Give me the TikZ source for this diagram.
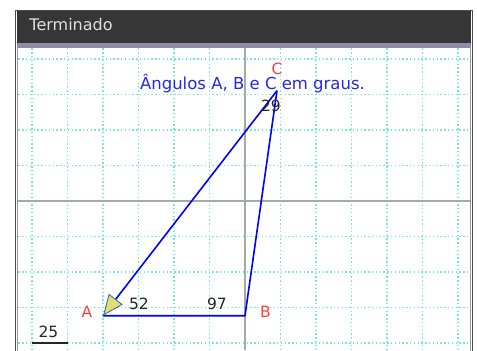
\documentclass[tikz,border=0pt]{standalone}
\usepackage{fontspec}
\setmainfont{DejaVu Sans}
\usetikzlibrary{arrows.meta}
\definecolor{gridcol}{RGB}{110,235,215}
\definecolor{axiscol}{RGB}{160,172,166}
\definecolor{headcol}{RGB}{54,54,54}
\definecolor{bandcol}{RGB}{140,140,165}
\definecolor{ptred}{RGB}{255,60,60}
\definecolor{txtblue}{RGB}{40,40,230}
\definecolor{tipyellow}{RGB}{226,222,112}
\definecolor{tipedge}{RGB}{70,110,150}
\begin{document}
\begin{tikzpicture}[x=35.5pt, y=35.5pt,
        gridline/.style={gridcol, line width=1.4pt, dash pattern=on 1.4pt off 2.4pt},
        ptlabel/.style={ptred, font=\fontsize{15.5}{18}\selectfont},
        numlabel/.style={black!85, font=\fontsize{15.5}{18}\selectfont}]
        \useasboundingbox (-6.901,-4.197) rectangle (6.535,5.662);
        % frame and title bar
        \fill[white] (-6.901,-4.197) rectangle (6.535,5.662);
        \draw[black!70, line width=1pt] (-6.465,-4.5) -- (-6.465,5.372) -- (6.408,5.372) -- (6.408,-4.5);
        \draw[black!40, line width=0.8pt] (-6.408,-4.5) -- (-6.408,4.324) -- (6.352,4.324) -- (6.352,-4.5);
        \fill[headcol] (-6.42,5.352) rectangle (6.36,4.451);
        \fill[bandcol] (-6.42,4.451) rectangle (6.36,4.324);
        \node[anchor=base west, text=black!12, font=\fontsize{16}{18}\selectfont, inner sep=0pt] (title) at (-6.076,4.789) {Terminado};
        % grid
        \foreach \x in {-6,...,6}
            \draw[gridline] (\x,4.3) -- (\x,-4.2);
        \foreach \y in {-4,...,4}
            \draw[gridline] (-6.38,\y) -- (6.33,\y);
        \draw[axiscol, line width=1.2pt] (-6.38,0) -- (6.33,0);
        \draw[axiscol, line width=1.2pt] (0,4.3) -- (0,-4.2);
        % triangle
        \coordinate (A) at (-4,-3.231);
        \coordinate (B) at (0,-3.231);
        \coordinate (C) at (0.901,3.107);
        \draw[blue, line width=1.6pt] (A) -- (B) -- (C);
        \draw[blue, line width=1.6pt, -{Triangle[length=21pt, width=17.5pt, color=tipedge, fill=tipyellow, line width=0.9pt]}] (C) -- (A);
        \node[anchor=base, text=txtblue, font=\fontsize{16.5}{19}\selectfont, inner sep=0pt] (info) at (0.211,3.146) {Ângulos A, B e C em graus.};
        \node[ptlabel, inner sep=0pt] (labA) at (-4.451,-3.113) {A};
        \node[ptlabel, inner sep=0pt] (labB) at (0.577,-3.113) {B};
        \node[ptlabel, inner sep=0pt] (labC) at (0.9,3.72) {C};
        \node[numlabel, inner sep=0pt] (angA) at (-2.986,-2.901) {52};
        \node[numlabel, inner sep=0pt] (angB) at (-0.789,-2.901) {97};
        \node[numlabel, inner sep=0pt] (angC) at (0.732,2.676) {29};
        % scale
        \node[numlabel, inner sep=0pt] (scl) at (-5.535,-3.690) {25};
        \coordinate (s1) at (-6,-4);
        \coordinate (s2) at (-4.98,-4);
        \draw[black!85, line width=1.2pt] (s1) -- (s2);
\end{tikzpicture}
\end{document}
